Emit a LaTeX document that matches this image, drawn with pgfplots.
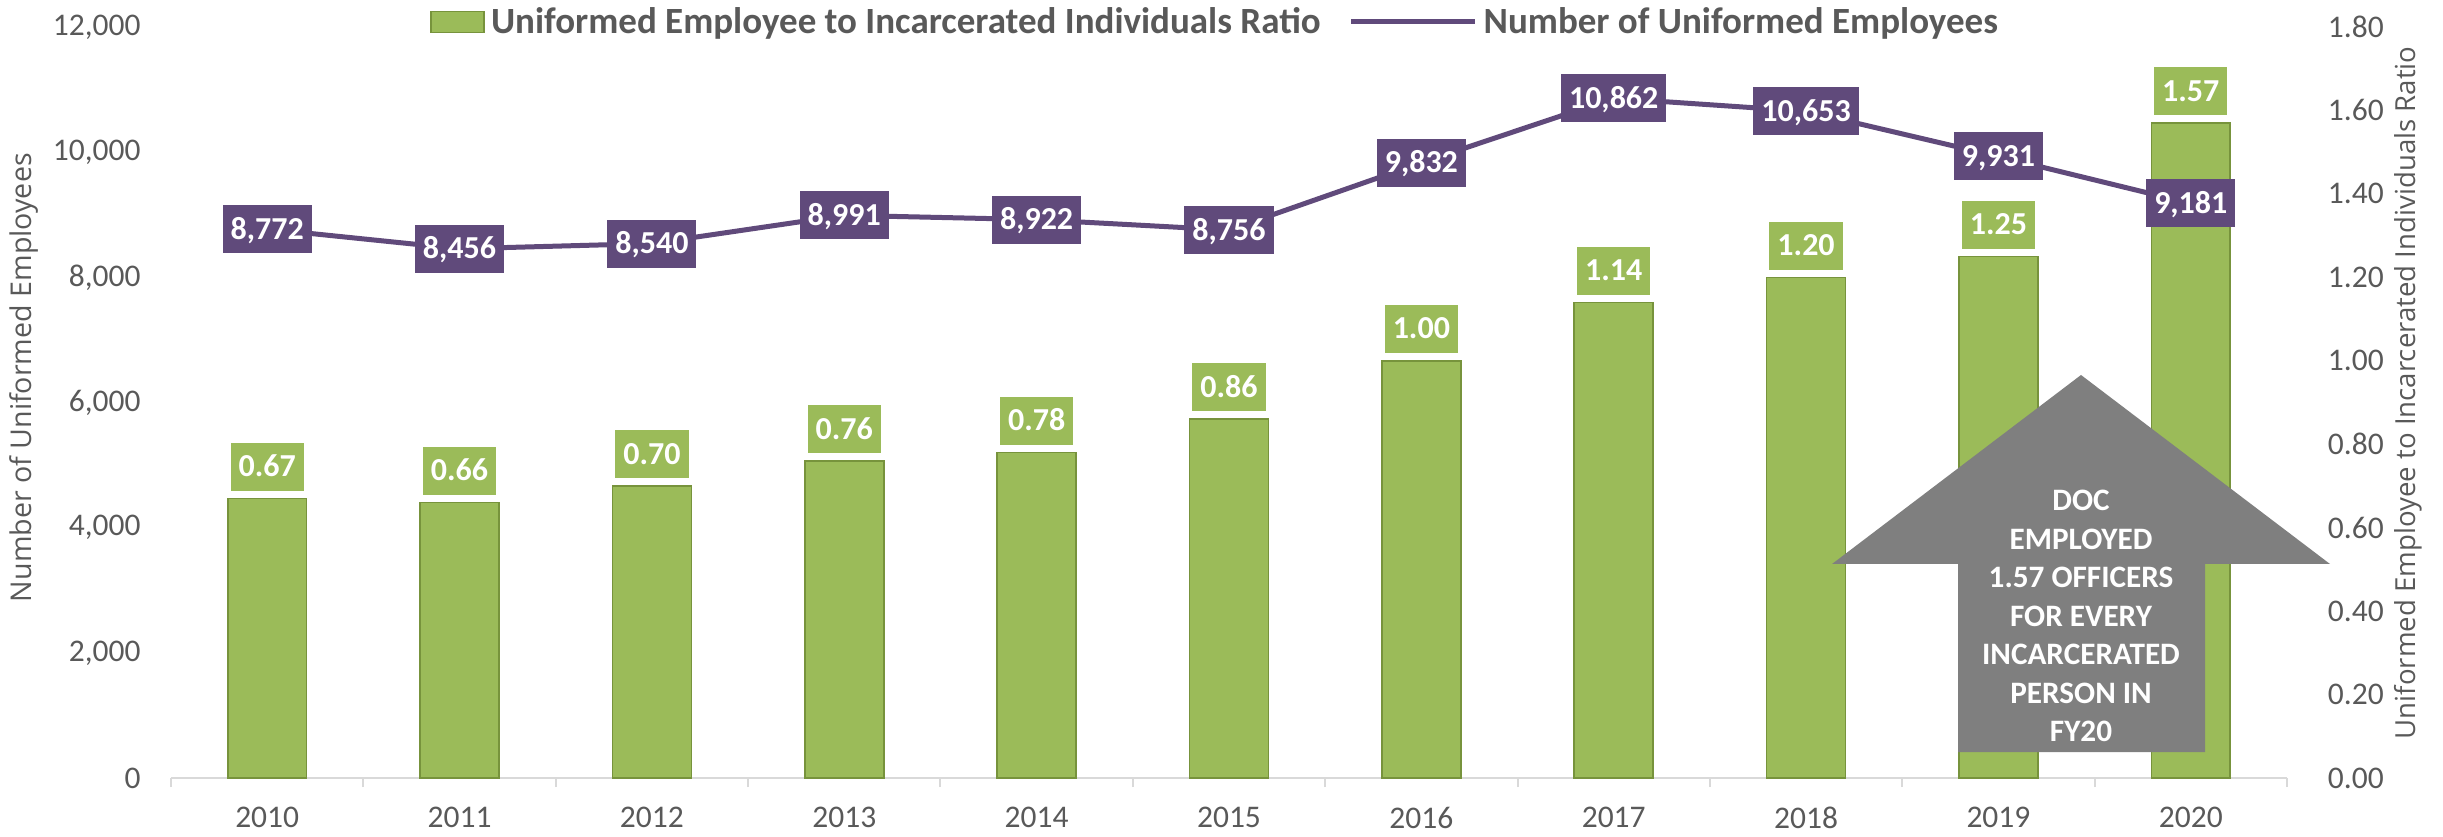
\documentclass[border=0pt]{standalone}
\usepackage{fontspec}
\setmainfont{Carlito}
\newfontfamily\osans{Open Sans}
\usepackage{pgfplots}
\pgfplotsset{compat=1.18}
\definecolor{barg}{HTML}{9BBB59}
\definecolor{barb}{HTML}{77933C}
\definecolor{purp}{HTML}{604A7B}
\definecolor{txt}{HTML}{595959}
\definecolor{axl}{HTML}{D9D9D9}
\definecolor{arr}{HTML}{7F7F7F}
\newcommand{\tickfont}{\fontsize{15.75}{18}\selectfont}
\newcommand{\lblfont}{\bfseries\fontsize{16}{18}\selectfont}
\pgfplotsset{
  sqlegend/.style={legend image code/.code={\draw[##1] (0pt,-5.25pt) rectangle (26.5pt,5.25pt);}},
  lnlegend/.style={legend image code/.code={\draw[##1] (0pt,0pt) -- (62pt,0pt);}},
}
\begin{document}
\begin{tikzpicture}
\useasboundingbox (0,0) rectangle (1221.5pt,418pt);
% ---- bars on the right axis
\begin{axis}[
  at={(85.5pt,29pt)}, anchor=south west,
  scale only axis, width=1058pt, height=375.5pt,
  xmin=-0.5, xmax=10.5, ymin=0, ymax=1.8,
  clip=false,
  axis x line*=bottom, axis y line*=right,
  x axis line style={draw=axl, line width=1pt, -},
  y axis line style={draw=none},
  xtick={0,1,2,3,4,5,6,7,8,9,10},
  xticklabels={2010,2011,2012,2013,2014,2015,2016,2017,2018,2019,2020},
  minor xtick={-0.5,0.5,1.5,2.5,3.5,4.5,5.5,6.5,7.5,8.5,9.5,10.5},
  major x tick style={draw=none},
  minor x tick style={draw=axl, line width=1pt},
  tick align=outside, minor tick length=4.5pt,
  ytick={0,0.2,0.4,0.6,0.8,1.0,1.2,1.4,1.6,1.8},
  ytick style={draw=none},
  xticklabel style={font=\tickfont, text=txt, anchor=north, inner sep=0pt, yshift=-10pt},
  yticklabel style={font=\tickfont, text=txt, anchor=west, inner sep=0pt, xshift=16pt,
    /pgf/number format/.cd, fixed, fixed zerofill, precision=2, assume math mode=true},
  ylabel={\osans Uniformed Employee to Incarcerated Individuals Ratio},
  every axis y label/.style={at={(axis description cs:1.0572,0.513)}, rotate=90, anchor=center,
    font=\fontsize{13.8}{15}\selectfont, text=txt},
]
\addplot[ybar, bar width=0.41, fill=barg, draw=barb, line width=0.8pt,
  nodes near coords={\pgfmathprintnumber[fixed,fixed zerofill,precision=2,assume math mode=true]{\pgfplotspointmeta}},
  every node near coord/.append style={fill=barg, text=white, font=\lblfont,
    inner xsep=4pt, inner ysep=7pt, text height=10pt, text depth=0pt, anchor=south, yshift=3.5pt}]
coordinates {(0,0.67) (1,0.66) (2,0.70) (3,0.76) (4,0.78) (5,0.86) (6,1.00) (7,1.14) (8,1.20) (9,1.25) (10,1.57)};
\end{axis}
% ---- line on the left axis
\begin{axis}[
  at={(85.5pt,29pt)}, anchor=south west,
  scale only axis, width=1058pt, height=375.5pt,
  xmin=-0.5, xmax=10.5, ymin=0, ymax=12000,
  clip=false,
  hide x axis, axis y line*=left,
  y axis line style={draw=none},
  ytick={0,2000,4000,6000,8000,10000,12000},
  ytick style={draw=none},
  scaled y ticks=false,
  yticklabel style={font=\tickfont, text=txt, anchor=east, inner sep=0pt, xshift=-15pt,
    /pgf/number format/.cd, fixed, 1000 sep={,}, assume math mode=true},
  ylabel={\osans Number of Uniformed Employees},
  every axis y label/.style={at={(axis description cs:-0.0695,0.533)}, rotate=90, anchor=center,
    font=\fontsize{14.3}{16}\selectfont, text=txt},
  legend columns=2,
  legend style={draw=none, fill=none, at={(0.1224,1.0067)}, anchor=west, inner sep=0pt,
    font=\bfseries\fontsize{18.5}{20}\selectfont, text=txt,
    nodes={inner sep=0pt},
    /tikz/every odd column/.append style={column sep=3pt},
    /tikz/every even column/.append style={column sep=14pt}},
]
\addlegendimage{fill=barg, draw=barb, line width=0.8pt, sqlegend}
\addplot[purp, line width=2.5pt, mark=none, lnlegend,
  nodes near coords={\pgfmathprintnumber[fixed,precision=0,1000 sep={,},assume math mode=true]{\pgfplotspointmeta}},
  every node near coord/.append style={fill=purp, text=white, font=\lblfont,
    inner xsep=4pt, inner ysep=7pt, text height=10pt, text depth=0pt, anchor=center, yshift=0pt}]
coordinates {(0,8772) (1,8456) (2,8540) (3,8991) (4,8922) (5,8756) (6,9832) (7,10862) (8,10653) (9,9931) (10,9181)};
\legend{Uniformed Employee to Incarcerated Individuals Ratio, Number of Uniformed Employees}
\end{axis}
% ---- annotation arrow
\fill[arr] (1040.5pt,230.5pt) -- (1165pt,136pt) -- (1102.5pt,136pt) -- (1102.5pt,42pt)
  -- (979pt,42pt) -- (979pt,136pt) -- (916pt,136pt) -- cycle;
\node[text=white, align=center, font=\bfseries\fontsize{15.6}{19.25}\selectfont, inner sep=0pt]
  at (1040.5pt,110pt) {DOC\\EMPLOYED\\1.57 OFFICERS\\FOR EVERY\\INCARCERATED\\PERSON IN\\FY20};
\end{tikzpicture}
\end{document}
